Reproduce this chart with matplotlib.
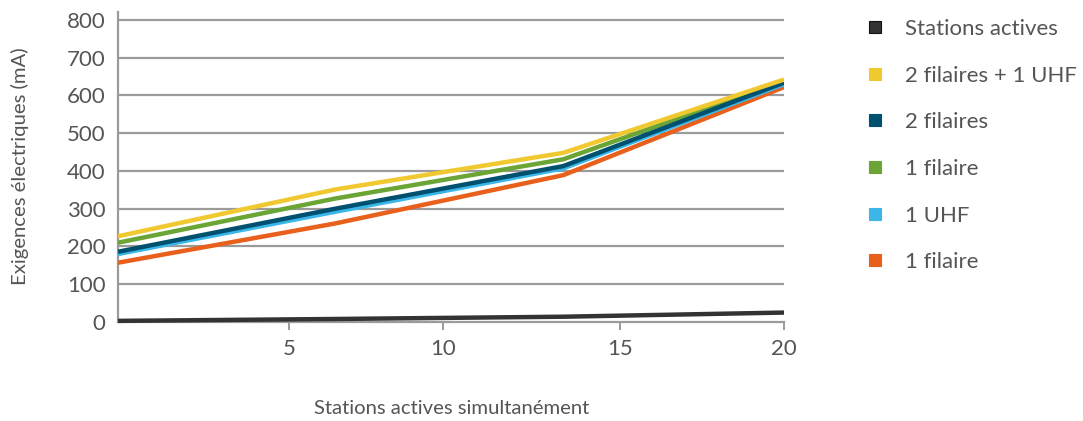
import numpy as np
import matplotlib
matplotlib.use("Agg")
import matplotlib.pyplot as plt
from matplotlib.lines import Line2D
from matplotlib import font_manager

# ---------------- data ----------------
stations = [0, 6.5, 13.4, 20]
stations_actives = [3, 8, 14, 25]
deux_filaires_uhf = [227, 351, 448, 642]
deux_filaires = [186, 300, 413, 634]
un_filaire_a = [210, 327, 431, 638]
un_uhf = [180, 292, 407, 630]
un_filaire_b = [157, 261, 389, 622]

legend_labels = ["Stations actives", "2 filaires + 1 UHF", "2 filaires",
                 "1 filaire", "1 UHF", "1 filaire"]
x_ticks = [5, 10, 15, 20]
y_ticks = [0, 100, 200, 300, 400, 500, 600, 700, 800]
x_label = "Stations actives simultanément"
y_label = "Exigences électriques (mA)"

# ---------------- style ----------------
names = {f.name for f in font_manager.fontManager.ttflist}
family = [f for f in ["Lato", "Open Sans", "DejaVu Sans"] if f in names]
plt.rcParams["font.family"] = family
plt.rcParams["font.weight"] = "normal"

C_BLACK = "#333333"
C_YELLOW = "#F0C830"
C_DBLUE = "#00506F"
C_GREEN = "#6AA535"
C_LBLUE = "#3BB6E8"
C_ORANGE = "#E8601C"
C_GRID = "#9b9b9b"
C_TEXT = "#555555"

# piecewise x scale (uneven tick spacing of the reference)
anchor_vals = [0, 5, 10, 15, 20]
anchor_pos = [0.0, 0.2568, 0.488, 0.7538, 1.0]


def fwd(x):
    return np.interp(x, anchor_vals, anchor_pos)


def inv(p):
    return np.interp(p, anchor_pos, anchor_vals)


fig = plt.figure(figsize=(10.83, 4.21), dpi=100)
ax = fig.add_axes([118 / 1083, 99 / 421, 666 / 1083, 310 / 421])
ax.set_xscale("function", functions=(fwd, inv))
ax.set_xlim(0, 20)
ax.set_ylim(0, 821)

for v in y_ticks[1:]:
    ax.axhline(v, color=C_GRID, lw=1.6, zorder=1)

series = [
    (un_filaire_b, C_ORANGE),
    (un_uhf, C_LBLUE),
    (un_filaire_a, C_GREEN),
    (deux_filaires, C_DBLUE),
    (deux_filaires_uhf, C_YELLOW),
]
for vals, col in series:
    ax.plot(stations, vals, color=col, lw=3.2, zorder=3, solid_capstyle="butt")
ax.plot(stations, stations_actives, color=C_BLACK, lw=3.2, zorder=4,
        clip_on=False, solid_capstyle="butt")

for s in ["top", "right"]:
    ax.spines[s].set_visible(False)
ax.spines["left"].set_color(C_GRID)
ax.spines["left"].set_linewidth(1.6)
ax.spines["bottom"].set_color(C_GRID)
ax.spines["bottom"].set_linewidth(1.6)

ax.set_yticks(y_ticks)
ax.set_yticklabels([str(v) for v in y_ticks])
ax.set_xticks(x_ticks)
ax.set_xticklabels([str(v) for v in x_ticks])
ax.tick_params(axis="y", length=0, pad=9, labelsize=16, labelcolor=C_TEXT)
ax.tick_params(axis="x", length=6, width=1.4, color=C_GRID, pad=6,
               labelsize=16, labelcolor=C_TEXT, direction="out")

fig.text(20 / 1083, 1 - 166 / 421, y_label, rotation=90, ha="center",
         va="center", fontsize=14.6, color=C_TEXT)
fig.text(452 / 1083, 1 - 408 / 421, x_label, ha="center", va="center",
         fontsize=14.6, color=C_TEXT)

handles = [Line2D([], [], ls="none", marker="s", markersize=9,
                  markerfacecolor=c, markeredgecolor=c if c != C_BLACK else "#111111",
                  markeredgewidth=0.8)
           for c in [C_BLACK, C_YELLOW, C_DBLUE, C_GREEN, C_LBLUE, C_ORANGE]]
leg = fig.legend(handles, legend_labels, loc="upper left",
                 bbox_to_anchor=(855 / 1083, 1 - 10 / 421), frameon=False,
                 fontsize=16, labelcolor=C_TEXT, handlelength=1.0,
                 handletextpad=0.85, labelspacing=1.2, borderaxespad=0)

fig.savefig("out.png", dpi=100)
